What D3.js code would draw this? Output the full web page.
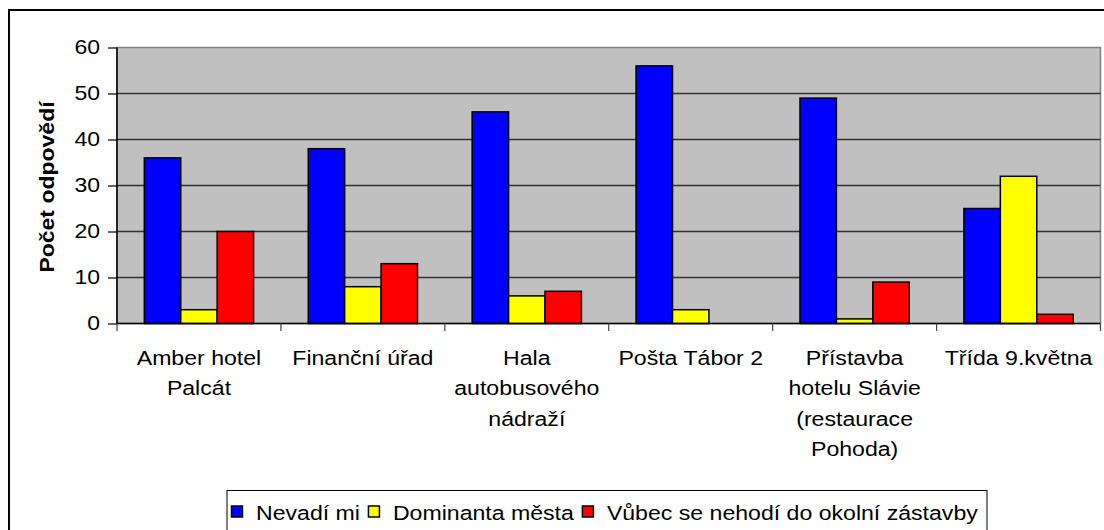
<!DOCTYPE html>
<html>
<head>
<meta charset="utf-8">
<script src="https://cdn.jsdelivr.net/npm/d3@7/dist/d3.min.js"></script>
<style>
  html, body { margin: 0; padding: 0; background: #fff; }
  svg { display: block; }
  text { font-family: "Liberation Sans", Arial, sans-serif; fill: #000; }
</style>
</head>
<body>
<svg id="chart" width="1104" height="530"></svg>
<script>
const categories = [
  "Amber hotel\nPalcát",
  "Finanční úřad",
  "Hala\nautobusového\nnádraží",
  "Pošta Tábor 2",
  "Přístavba\nhotelu Slávie\n(restaurace\nPohoda)",
  "Třída 9.května"
];
const seriesNames = ["Nevadí mi", "Dominanta města", "Vůbec se nehodí do okolní zástavby"];
const nevadiMi    = [36, 38, 46, 56, 49, 25];
const dominanta   = [3, 8, 6, 3, 1, 32];
const vubecNehodi = [20, 13, 7, 0, 9, 2];
const seriesColors = ["#0000FF", "#FFFF00", "#FF0000"];
const yTicks = [0, 10, 20, 30, 40, 50, 60];
const yTitle = "Počet odpovědí";

const seriesValues = [nevadiMi, dominanta, vubecNehodi];

const svg = d3.select("#chart");
const plot = { left: 117, right: 1100.5, top: 47.5, bottom: 323.5 };

// outer frame
svg.append("rect").attr("x", 9).attr("y", 10).attr("width", 1300).attr("height", 700)
  .attr("fill", "#fff").attr("stroke", "#000").attr("stroke-width", 2);

const x = d3.scaleBand().domain(d3.range(categories.length))
  .range([plot.left, plot.right]).paddingInner(0).paddingOuter(0);
const bw = x.bandwidth() / 4.5;
const xs = d3.scaleBand().domain(d3.range(seriesNames.length))
  .range([0.75 * bw, 3.75 * bw]).padding(0);
const y = d3.scaleLinear().domain([0, 60]).range([plot.bottom, plot.top]);

// plot background
svg.append("rect").attr("x", plot.left).attr("y", plot.top)
  .attr("width", plot.right - plot.left).attr("height", plot.bottom - plot.top)
  .attr("fill", "#C0C0C0").attr("stroke", "#808080").attr("stroke-width", 1.5);

// gridlines
svg.append("g").selectAll("line").data(yTicks.filter(d => d > 0 && d < 60)).join("line")
  .attr("x1", plot.left).attr("x2", plot.right)
  .attr("y1", d => y(d)).attr("y2", d => y(d))
  .attr("stroke", "#333").attr("stroke-width", 1.5);

// bars
const groups = svg.append("g").selectAll("g").data(categories).join("g")
  .attr("transform", (d, i) => `translate(${x(i)},0)`);
groups.selectAll("rect").data((d, i) => seriesValues.map((s, j) => ({ v: s[i], j })))
  .join("rect")
  .attr("x", d => xs(d.j)).attr("width", xs.bandwidth())
  .attr("y", d => y(d.v)).attr("height", d => y(0) - y(d.v))
  .attr("fill", d => seriesColors[d.j])
  .attr("stroke", "#000").attr("stroke-width", 1.5)
  .style("display", d => d.v > 0 ? null : "none");

// y axis
const yAxis = d3.axisLeft(y).tickValues(yTicks).tickSize(9).tickPadding(8);
const gy = svg.append("g").attr("transform", `translate(${plot.left},0)`).call(yAxis);
gy.select(".domain").attr("stroke", "#000").attr("stroke-width", 1.5).attr("d", `M0,${plot.top}V${plot.bottom}`);
gy.selectAll(".tick line").attr("stroke", "#000").attr("stroke-width", 1.2);
gy.selectAll(".tick text").attr("font-size", 20).attr("font-family", "Liberation Sans, Arial, sans-serif")
  .attr("fill", "#000").attr("x", 0).attr("transform", "translate(-17,0) scale(1.15,1)");

// x axis
const xAxis = d3.axisBottom(x).tickValues([]).tickSize(0);
const gx = svg.append("g").attr("transform", `translate(0,${plot.bottom})`).call(xAxis);
gx.select(".domain").attr("stroke", "#000").attr("stroke-width", 1.5).attr("d", `M${plot.left},0H${plot.right}`);
const sepTicks = d3.range(categories.length + 1).map(i => i < categories.length ? x(i) : plot.right);
gx.selectAll(".sep").data(sepTicks).join("line").attr("class", "sep")
  .attr("x1", d => d).attr("x2", d => d).attr("y1", 0).attr("y2", 7.5)
  .attr("stroke", "#444").attr("stroke-width", 1.2);

// category labels
const lab = svg.append("g").selectAll("text").data(categories).join("text")
  .attr("text-anchor", "middle").attr("font-size", 21)
  .attr("transform", (d, i) => `translate(${x(i) + x.bandwidth() / 2},365) scale(1.1,1)`);
lab.selectAll("tspan").data(d => d.split("\n")).join("tspan")
  .attr("x", 0).attr("y", (d, k) => k * 30.3).text(d => d);

// y title
svg.append("text").attr("transform", "translate(54,187) rotate(-90) scale(1.15,1)")
  .attr("text-anchor", "middle").attr("font-size", 20).attr("font-weight", "bold")
  .text(yTitle);

// legend
const lg = svg.append("g");
lg.append("rect").attr("x", 227).attr("y", 490.5).attr("width", 760).attr("height", 60)
  .attr("fill", "#fff").attr("stroke", "#000").attr("stroke-width", 1);
const sx = 1.1;
let cx = 231;
seriesNames.forEach((name, i) => {
  lg.append("rect").attr("x", cx + 0.5).attr("y", 506).attr("width", 11).attr("height", 11)
    .attr("fill", seriesColors[i]).attr("stroke", "#000").attr("stroke-width", 1.5);
  const t = lg.append("text").attr("font-size", 21)
    .attr("transform", `translate(${cx + 25},520) scale(${sx},1)`).text(name);
  cx += 25 + t.node().getComputedTextLength() * sx + 8;
});
</script>
</body>
</html>
